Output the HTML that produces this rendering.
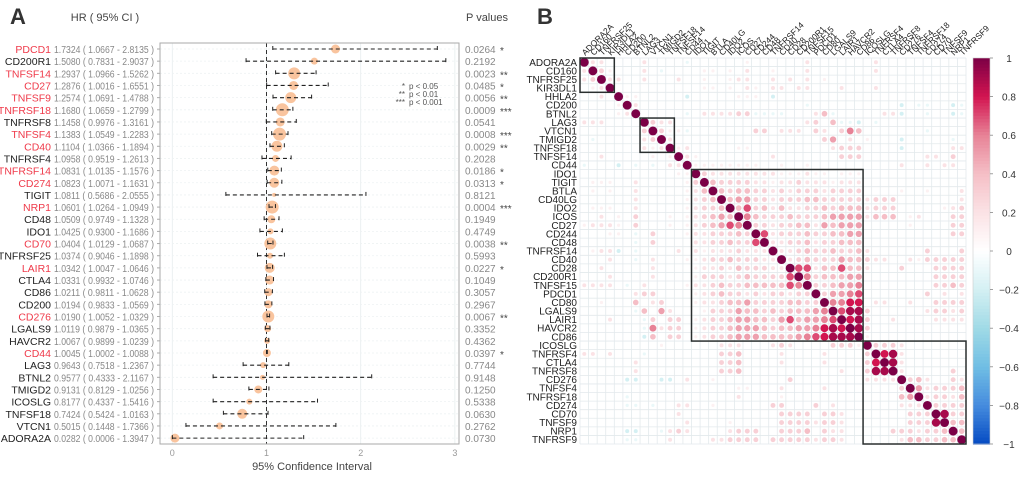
<!DOCTYPE html>
<html><head><meta charset="utf-8"><style>
html,body{margin:0;padding:0;background:#fff;}
svg{display:block;font-family:"Liberation Sans",sans-serif;}
</style></head><body>
<svg id="chart" width="1020" height="477" viewBox="0 0 1020 477" xmlns="http://www.w3.org/2000/svg">
<text x="10" y="24" font-size="22" font-weight="bold" fill="#333">A</text>
<text x="537" y="24" font-size="22" font-weight="bold" fill="#333">B</text>
<text x="105" y="21" font-size="11" fill="#444" text-anchor="middle">HR ( 95% CI )</text>
<text x="487" y="21" font-size="11" fill="#444" text-anchor="middle">P values</text>
<text x="312" y="470" font-size="11" fill="#444" text-anchor="middle">95% Confidence Interval</text>
<g id="forest"></g>
<g id="legendA">
<text x="405" y="89" font-size="8" fill="#555" text-anchor="end">*</text><text x="409" y="89" font-size="8" fill="#555">p &lt; 0.05</text>
<text x="405" y="97" font-size="8" fill="#555" text-anchor="end">**</text><text x="409" y="97" font-size="8" fill="#555">p &lt; 0.01</text>
<text x="405" y="105" font-size="8" fill="#555" text-anchor="end">***</text><text x="409" y="105" font-size="8" fill="#555">p &lt; 0.001</text>
</g>
<g id="heat"></g>
<g id="cbar"></g>
</svg>
<script>
const genesA = ["PDCD1","CD200R1","TNFSF14","CD27","TNFSF9","TNFRSF18","TNFRSF8","TNFSF4","CD40","TNFRSF4","TNFRSF14","CD274","TIGIT","NRP1","CD48","IDO1","CD70","TNFRSF25","LAIR1","CTLA4","CD86","CD200","CD276","LGALS9","HAVCR2","CD44","LAG3","BTNL2","TMIGD2","ICOSLG","TNFSF18","VTCN1","ADORA2A"];
const hrVals = [1.7324,1.5080,1.2937,1.2876,1.2574,1.1680,1.1458,1.1383,1.1104,1.0958,1.0831,1.0823,1.0811,1.0601,1.0509,1.0425,1.0404,1.0374,1.0342,1.0331,1.0211,1.0194,1.0190,1.0119,1.0067,1.0045,0.9643,0.9577,0.9131,0.8177,0.7424,0.5015,0.0282];
const ciLow = [1.0667,0.7831,1.0966,1.0016,1.0691,1.0659,0.9976,1.0549,1.0366,0.9519,1.0135,1.0071,0.5686,1.0264,0.9749,0.9300,1.0129,0.9046,1.0047,0.9932,0.9811,0.9833,1.0052,0.9879,0.9899,1.0002,0.7518,0.4333,0.8129,0.4337,0.5424,0.1448,0.0006];
const ciHigh = [2.8135,2.9037,1.5262,1.6551,1.4788,1.2799,1.3161,1.2283,1.1894,1.2613,1.1576,1.1631,2.0555,1.0949,1.1328,1.1686,1.0687,1.1898,1.0646,1.0746,1.0628,1.0569,1.0329,1.0365,1.0239,1.0088,1.2367,2.1167,1.0256,1.5416,1.0163,1.7366,1.3947];
const pVals = [0.0264,0.2192,0.0023,0.0485,0.0056,0.0009,0.0541,0.0008,0.0029,0.2028,0.0186,0.0313,0.8121,0.0004,0.1949,0.4749,0.0038,0.5993,0.0227,0.1049,0.3057,0.2967,0.0067,0.3352,0.4362,0.0397,0.7744,0.9148,0.1250,0.5338,0.0630,0.2762,0.0730];
const dotSize = [4.5,3.5,6,4.5,5.5,6.5,4.5,6.5,5.5,3.5,5,5,2,6.5,4,3,6,3,5,4.5,4,4,6,3.5,3,4,3,2.5,4,3,5,3.5,4.5];
const xTicks = [0,1,2,3];

const NS="http://www.w3.org/2000/svg";
function mk(parent,tag,attrs,txt){const e=document.createElementNS(NS,tag);for(const k in attrs)e.setAttribute(k,attrs[k]);if(txt!==undefined)e.textContent=txt;parent.appendChild(e);return e;}

(function(){
  const g=document.getElementById('forest');
  const L=160,R=459,T=43,B=444;
  const xs=v=>172.3+v*94.2;
  const ys=i=>49+i*12.16;
  const fmt=v=>v.toFixed(4);
  xTicks.forEach(t=>{
    const l=mk(g,'line',{x1:xs(t),x2:xs(t),y1:T,y2:B,stroke:'#e6ecee','stroke-width':0.8});
    
    
    const tx=mk(g,'text',{x:xs(t),y:B+12,'font-size':9,fill:'#999','text-anchor':'middle'},String(t));
    
    
  });
  genesA.forEach((name,i)=>{
    const y=ys(i);
    const gl=mk(g,'line',{x1:L,x2:R,y1:y,y2:y,stroke:'#eef2f3','stroke-width':0.8,'stroke-dasharray':'2,2'});
    
    
  });
  mk(g,'line',{x1:xs(1),x2:xs(1),y1:T,y2:B,stroke:'#333','stroke-width':1,'stroke-dasharray':'4,3'});
  mk(g,'rect',{x:L,y:T,width:R-L,height:B-T,fill:'none',stroke:'#aaa','stroke-width':1});
  genesA.forEach((name,i)=>{
    const y=ys(i);const sig=pVals[i]<0.05;
    const lab=mk(g,'text',{x:51,y:y+4,'font-size':10.5,fill:sig?'#ef3a4a':'#222','text-anchor':'end'},name);
    
    
    const hr=mk(g,'text',{x:54,y:y+4,'font-size':10,fill:'#888',textLength:100,lengthAdjust:'spacingAndGlyphs'},fmt(hrVals[i])+' ( '+fmt(ciLow[i])+' - '+fmt(ciHigh[i])+' )');
    
    
    const c=mk(g,'circle',{cx:xs(hrVals[i]),cy:y,r:dotSize[i],fill:'#f9c49e'});
    
    
    const ci=mk(g,'line',{x1:xs(ciLow[i]),x2:xs(ciHigh[i]),y1:y,y2:y,stroke:'#222','stroke-width':1.1,'stroke-dasharray':'4,3'});
    
    
    mk(g,'line',{x1:xs(ciLow[i]),x2:xs(ciLow[i]),y1:y-3,y2:y+1,stroke:'#222','stroke-width':1});
    mk(g,'line',{x1:xs(ciHigh[i]),x2:xs(ciHigh[i]),y1:y-3,y2:y+1,stroke:'#222','stroke-width':1});
    mk(g,'line',{x1:L-3,x2:L,y1:y,y2:y,stroke:'#aaa','stroke-width':1});
    const p=mk(g,'text',{x:465,y:y+4,'font-size':10,fill:'#888'},fmt(pVals[i]));
    
    
    const st=pVals[i]<0.001?'***':pVals[i]<0.01?'**':pVals[i]<0.05?'*':'';
    if(st){const s=mk(g,'text',{x:500,y:y+5,'font-size':10,fill:'#444'},st);
      
      }
  });
})();

const genesB = ["ADORA2A","CD160","TNFRSF25","KIR3DL1","HHLA2","CD200","BTNL2","LAG3","VTCN1","TMIGD2","TNFSF18","TNFSF14","CD44","IDO1","TIGIT","BTLA","CD40LG","IDO2","ICOS","CD27","CD244","CD48","TNFRSF14","CD40","CD28","CD200R1","TNFSF15","PDCD1","CD80","LGALS9","LAIR1","HAVCR2","CD86","ICOSLG","TNFRSF4","CTLA4","TNFRSF8","CD276","TNFSF4","TNFRSF18","CD274","CD70","TNFSF9","NRP1","TNFRSF9"];
const corrRows = ["","2","23","012","0020","00001","000012","2220000","00000003","0a0000023","0000000212","00200000101","a000b0a0a022","0000000000011","01110020000013","010100200000124","0000002000001234","01110020000012334","002010300010123454","1222103000101234576","000110a0300012233343","000000a03000022334337","0122b0a000020212223222","000200a0200011233433322","002000002000012232433322","0002000020000133323433337","22220a02000012234334444476","000000233000012343323233233","0010004023000122344533334433","000000a4052000133354434344456","0002000a3033012334554435745567","0000000a62330123345554344556898","0000000b403301233455544445678999","000000000100000022200023200003331","2202000a00000"+"00033400002000020000"+"3","0000002000000"+"00033400002000020000"+"38","0000002000000"+"00033400000000000200"+"399","00000bb00bb02"+"00100000000300000000"+"2222","0000000000000"+"00000110002000020000"+"00003","00000a0000000"+"00000200001000000000"+"000045","00000aa0a0022"+"00100000033000302000"+"0000222","0000000000020"+"00000000003333033200"+"00000333","0000000000002"+"00001000003333233200"+"000003339","00000bb00a232"+"00002333003334032200"+"0003332334","00000aa000200"+"00223333033333233200"+"00002443344"];
const blockStart = [0,7,13,33];
const blockEnd = [3,10,32,44];
const cbTicks = [1,0.8,0.6,0.4,0.2,0,-0.2,-0.4,-0.6,-0.8,-1];

(function(){
  const g=document.getElementById('heat');
  const n=genesB.length, X0=580, Y0=58, S=386/n;
  const code=ch=>{if(ch>='0'&&ch<='9')return (+ch)/10; const k='abcd'.indexOf(ch); return k>=0?-(k+1)/10:0;};
  const M=[];for(let i=0;i<n;i++){M.push(new Array(n).fill(0));M[i][i]=1;}
  for(let i=0;i<n;i++){const r=corrRows[i]||'';for(let j=0;j<i;j++){const v=code(r[j]||'0');M[i][j]=v;M[j][i]=v;}}
  const posStops=[[0,[255,255,255]],[0.2,[251,226,229]],[0.4,[245,190,198]],[0.6,[231,130,150]],[0.8,[210,20,80]],[1,[123,0,70]]];
  const negStops=[[0,[255,255,255]],[0.2,[212,240,243]],[0.4,[160,218,230]],[0.6,[112,190,228]],[0.8,[70,140,222]],[1,[5,75,195]]];
  function col(v){const st=v>=0?posStops:negStops;const a=Math.abs(v);for(let k=1;k<st.length;k++){if(a<=st[k][0]){const t=(a-st[k-1][0])/(st[k][0]-st[k-1][0]);const c=st[k-1][1].map((x,m)=>Math.round(x+(st[k][1][m]-x)*t));return 'rgb('+c.join(',')+')';}}return 'rgb('+st[st.length-1][1].join(',')+')';}
  for(let k=0;k<=n;k++){
    mk(g,'line',{x1:X0,x2:X0+n*S,y1:Y0+k*S,y2:Y0+k*S,stroke:'#e3e9ec','stroke-width':0.8});
    mk(g,'line',{y1:Y0,y2:Y0+n*S,x1:X0+k*S,x2:X0+k*S,stroke:'#e3e9ec','stroke-width':0.8});
  }
  for(let i=0;i<n;i++){
    const rl=mk(g,'text',{x:X0-3,y:Y0+i*S+S/2+3.5,'font-size':10,fill:'#222','text-anchor':'end'},genesB[i]);
    
    
    const cx=X0+i*S+S/2+1, cy=Y0-2;
    const cl=mk(g,'text',{x:cx,y:cy,'font-size':8.5,fill:'#222',transform:'rotate(-45 '+cx+' '+cy+')'},genesB[i]);
    
    
    for(let j=0;j<n;j++){
      const v=M[i][j]; if(v===0)continue;
      const r=Math.max(1.6,Math.sqrt(Math.abs(v))*S*0.52);
      const c=mk(g,'circle',{cx:X0+j*S+S/2,cy:Y0+i*S+S/2,r:r,fill:col(v)});
      
      
    }
  }
  blockStart.forEach((s,k)=>{
    const e=blockEnd[k];
    const b=mk(g,'rect',{x:X0+s*S,y:Y0+s*S,width:(e-s+1)*S,height:(e-s+1)*S,fill:'none',stroke:'#2a2f2f','stroke-width':1.5});
    
    
  });
  const cb=document.getElementById('cbar');
  const CX=973,CW=17,CT=58,CB=444,steps=120;
  for(let k=0;k<steps;k++){const v=1-2*(k+0.5)/steps;mk(cb,'rect',{x:CX,y:CT+k*(CB-CT)/steps,width:CW,height:(CB-CT)/steps+0.6,fill:col(v)});}
  mk(cb,'rect',{x:CX,y:CT,width:CW,height:CB-CT,fill:'none',stroke:'#ccc','stroke-width':0.6});
  cbTicks.forEach(t=>{
    const y=CT+(1-t)/2*(CB-CT);
    mk(cb,'line',{x1:CX+CW,x2:CX+CW+3,y1:y,y2:y,stroke:'#888','stroke-width':0.8});
    const tl=mk(cb,'text',{x:1009,y:y+4,'font-size':10,fill:'#333','text-anchor':'middle'},t<0?'\u2212'+Math.abs(t):String(t));
    
    
  });
})();
</script>
</body></html>
